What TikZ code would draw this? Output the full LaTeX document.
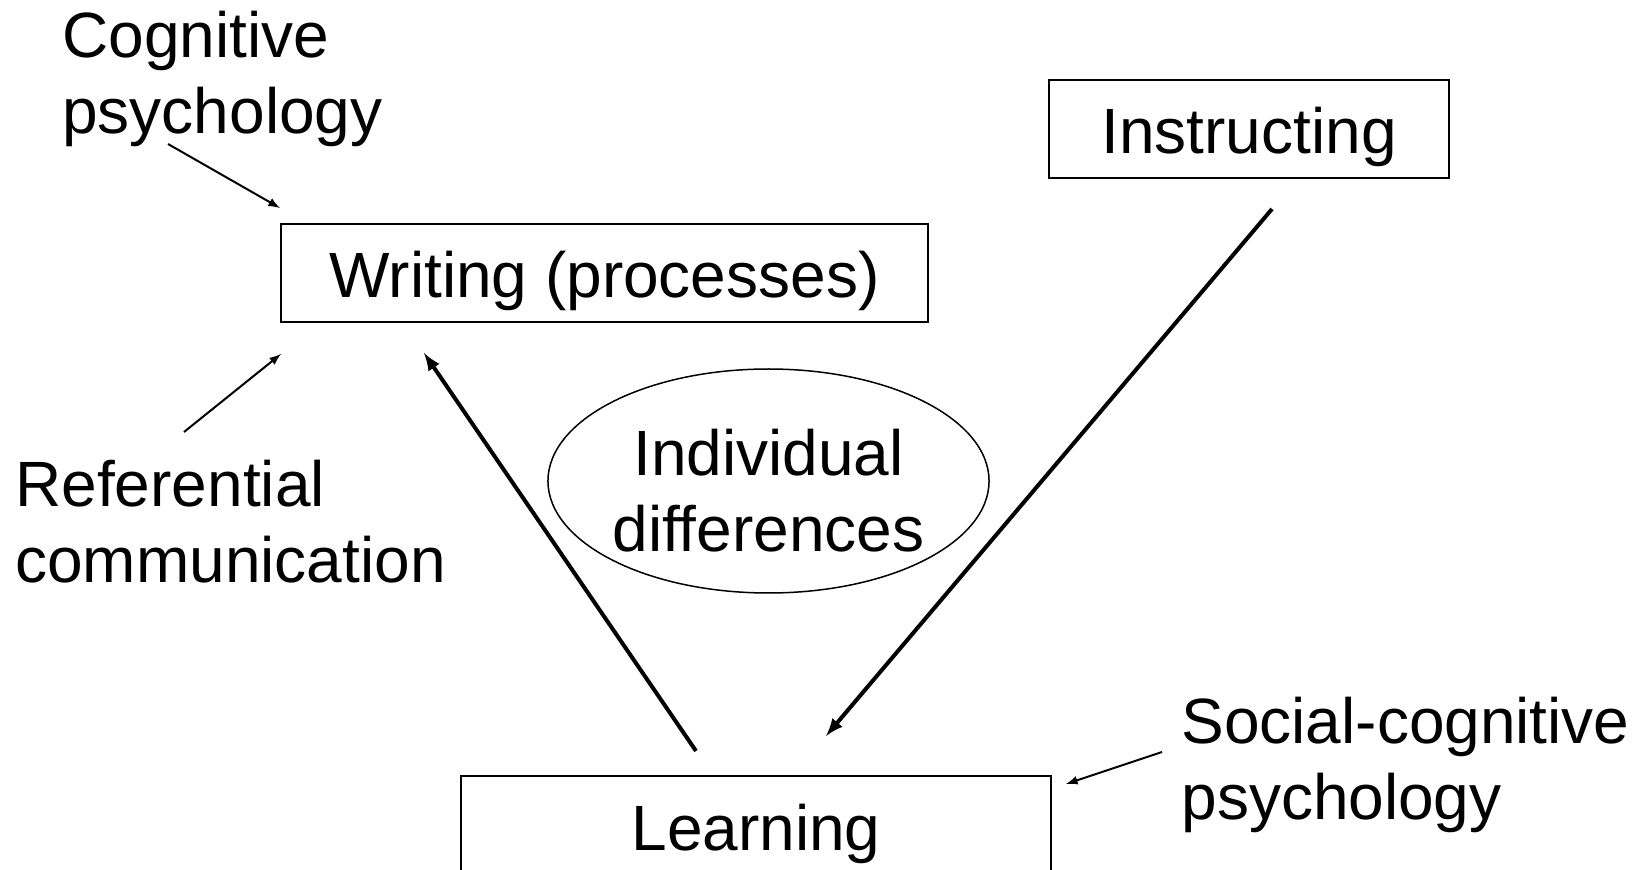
\documentclass[tikz,border=0pt]{standalone}
\usepackage{fontspec}
\setmainfont{Liberation Sans}
\usetikzlibrary{arrows,positioning,shapes.geometric}
\tikzset{
  box/.style={draw,line width=1pt,inner sep=0pt,text height=25pt,text depth=0pt},
  lbl/.style={align=left,inner sep=0pt,anchor=base west},
  pointer/.style={->,>=latex,line width=1pt},
  flow/.style={->,>=latex,line width=2pt}
}

\begin{document}
\begin{tikzpicture}[x=0.5pt,y=-0.5pt,font=\fontsize{32}{38}\selectfont]
\useasboundingbox (0,0) rectangle (1642,870);
\clip (0,0) rectangle (1642,870);
\node[box,minimum width=323.5pt,minimum height=49pt] (writing) at (604.5,273) {Writing (processes)};
\node[box,minimum width=200pt,minimum height=49pt] (instr) at (1249,129) {Instructing};
\node[box,minimum width=295pt,minimum height=49pt] (learning) at (756,825) {Learning};
\node[ellipse,draw,line width=0.75pt,minimum width=216.5pt,minimum height=112pt,
  align=center,inner sep=0pt] (indiv) at (768.5,481)
  {\rule{0pt}{33pt}Individual\\differences};
%
\node[lbl] (cogpsy) at (62,134) {Cognitive\\psychology};
\node[lbl] (refcom) at (15,582) {Referential\\communication};
\node[lbl] (socpsy) at (1181,819) {Social-cognitive\\psychology};
%
\coordinate (cogpsy-out) at (168,144);
\coordinate (cogpsy-in) at (280,208);
\coordinate (refcom-out) at (184,432);
\coordinate (refcom-in) at (281,354);
\coordinate (socpsy-out) at (1162,752);
\coordinate (socpsy-in) at (1066,784);
\coordinate (learning-out) at (696,751);
\coordinate (writing-in) at (424,353);
\coordinate (instr-out) at (1272,209);
\coordinate (learning-in) at (826,736);
\draw[pointer] (cogpsy-out) to (cogpsy-in);
\draw[pointer] (refcom-out) to (refcom-in);
\draw[pointer] (socpsy-out) to (socpsy-in);
\draw[flow] (learning-out) to (writing-in);
\draw[flow] (instr-out) to (learning-in);
\end{tikzpicture}
\end{document}
